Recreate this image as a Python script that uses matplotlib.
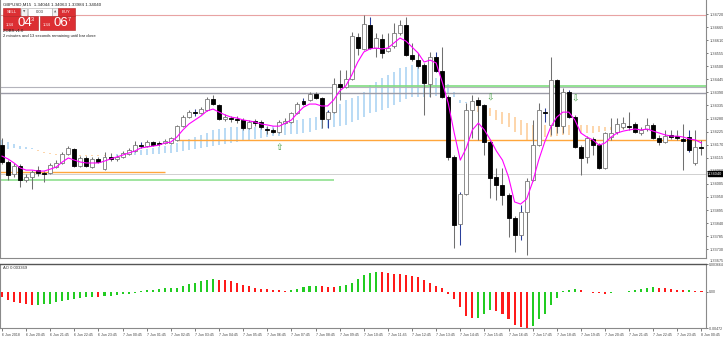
import matplotlib
matplotlib.use("Agg")
import matplotlib.pyplot as plt
import matplotlib.transforms as mtransforms
from matplotlib.patches import Rectangle

# ---------------- data ----------------
opens = [1.34168, 1.34097, 1.34047, 1.34080, 1.34021, 1.34034, 1.34063, 1.34051, 1.34051, 1.34076,
         1.34093, 1.34131, 1.34152, 1.34080, 1.34114, 1.34076, 1.34110, 1.34067, 1.34118, 1.34110,
         1.34118, 1.34131, 1.34143, 1.34168, 1.34164, 1.34181, 1.34177, 1.34177, 1.34177, 1.34190,
         1.34248, 1.34286, 1.34307, 1.34303, 1.34316, 1.34362, 1.34337, 1.34278, 1.34282, 1.34278,
         1.34274, 1.34240, 1.34270, 1.34265, 1.34236, 1.34232, 1.34223, 1.34261, 1.34265, 1.34303,
         1.34354, 1.34358, 1.34383, 1.34366, 1.34278, 1.34307, 1.34425, 1.34413, 1.34446, 1.34623,
         1.34573, 1.34674, 1.34577, 1.34615, 1.34564, 1.34585, 1.34640, 1.34674, 1.34547, 1.34526,
         1.34505, 1.34425, 1.34539, 1.34480, 1.34371, 1.34118, 1.33836, 1.33963, 1.34316, 1.34358,
         1.34337, 1.34181, 1.34034, 1.34000, 1.33958, 1.33862, 1.33790, 1.33887, 1.34021, 1.34168,
         1.34307, 1.34253, 1.34442, 1.34248, 1.34392, 1.34286, 1.34160, 1.34118, 1.34194, 1.34168,
         1.34072, 1.34202, 1.34223, 1.34244, 1.34248, 1.34257, 1.34219, 1.34236, 1.34253, 1.34198,
         1.34181, 1.34211, 1.34206, 1.34194, 1.34202, 1.34093, 1.34160]
closes = [1.34097, 1.34042, 1.34080, 1.34021, 1.34034, 1.34055, 1.34051, 1.34047, 1.34084, 1.34093,
          1.34131, 1.34156, 1.34080, 1.34114, 1.34080, 1.34110, 1.34097, 1.34118, 1.34110, 1.34118,
          1.34135, 1.34147, 1.34168, 1.34164, 1.34181, 1.34168, 1.34173, 1.34185, 1.34198, 1.34248,
          1.34286, 1.34307, 1.34303, 1.34320, 1.34362, 1.34341, 1.34278, 1.34286, 1.34278, 1.34274,
          1.34240, 1.34265, 1.34261, 1.34244, 1.34232, 1.34223, 1.34265, 1.34270, 1.34303, 1.34341,
          1.34341, 1.34383, 1.34366, 1.34278, 1.34307, 1.34425, 1.34413, 1.34446, 1.34627, 1.34577,
          1.34678, 1.34577, 1.34619, 1.34556, 1.34577, 1.34640, 1.34674, 1.34547, 1.34531, 1.34501,
          1.34430, 1.34539, 1.34480, 1.34371, 1.34118, 1.33833, 1.33963, 1.34316, 1.34354, 1.34337,
          1.34181, 1.34030, 1.34000, 1.33958, 1.33862, 1.33790, 1.33887, 1.34017, 1.34168, 1.34316,
          1.34303, 1.34442, 1.34248, 1.34392, 1.34286, 1.34160, 1.34114, 1.34198, 1.34168, 1.34072,
          1.34219, 1.34219, 1.34257, 1.34261, 1.34244, 1.34223, 1.34232, 1.34253, 1.34198, 1.34181,
          1.34206, 1.34202, 1.34198, 1.34185, 1.34147, 1.34160, 1.34156]
highs = [1.34198, 1.34105, 1.34093, 1.34089, 1.34047, 1.34063, 1.34080, 1.34059, 1.34093, 1.34105,
         1.34139, 1.34164, 1.34156, 1.34122, 1.34122, 1.34118, 1.34118, 1.34139, 1.34135, 1.34126,
         1.34143, 1.34156, 1.34185, 1.34181, 1.34190, 1.34185, 1.34185, 1.34194, 1.34202, 1.34253,
         1.34295, 1.34316, 1.34320, 1.34328, 1.34371, 1.34379, 1.34341, 1.34299, 1.34291, 1.34291,
         1.34282, 1.34274, 1.34278, 1.34274, 1.34248, 1.34240, 1.34274, 1.34282, 1.34307, 1.34350,
         1.34366, 1.34392, 1.34392, 1.34371, 1.34316, 1.34451, 1.34484, 1.34484, 1.34644, 1.34640,
         1.34716, 1.34707, 1.34640, 1.34636, 1.34640, 1.34682, 1.34695, 1.34707, 1.34598, 1.34556,
         1.34514, 1.34560, 1.34560, 1.34581, 1.34379, 1.34126, 1.33971, 1.34345, 1.34379, 1.34371,
         1.34341, 1.34190, 1.34072, 1.34072, 1.33967, 1.33871, 1.33916, 1.34030, 1.34274, 1.34345,
         1.34324, 1.34539, 1.34446, 1.34409, 1.34400, 1.34295, 1.34168, 1.34206, 1.34202, 1.34177,
         1.34223, 1.34282, 1.34282, 1.34286, 1.34307, 1.34265, 1.34244, 1.34282, 1.34261, 1.34211,
         1.34232, 1.34232, 1.34232, 1.34257, 1.34232, 1.34232, 1.34190]
lows = [1.34089, 1.34021, 1.34034, 1.33992, 1.34013, 1.33983, 1.34038, 1.34013, 1.34047, 1.34072,
        1.34089, 1.34126, 1.34076, 1.34076, 1.34076, 1.34072, 1.34093, 1.34063, 1.34101, 1.34101,
        1.34114, 1.34126, 1.34139, 1.34156, 1.34160, 1.34164, 1.34164, 1.34173, 1.34173, 1.34185,
        1.34244, 1.34282, 1.34291, 1.34299, 1.34312, 1.34337, 1.34274, 1.34270, 1.34265, 1.34261,
        1.34232, 1.34236, 1.34248, 1.34236, 1.34215, 1.34219, 1.34219, 1.34257, 1.34261, 1.34299,
        1.34337, 1.34354, 1.34362, 1.34240, 1.34240, 1.34303, 1.34358, 1.34409, 1.34442, 1.34547,
        1.34569, 1.34573, 1.34539, 1.34535, 1.34560, 1.34577, 1.34632, 1.34543, 1.34522, 1.34493,
        1.34295, 1.34371, 1.34476, 1.34366, 1.34105, 1.33735, 1.33748, 1.33958, 1.34198, 1.34190,
        1.34126, 1.33945, 1.33937, 1.33916, 1.33782, 1.33718, 1.33769, 1.33705, 1.34017, 1.34164,
        1.34265, 1.34211, 1.34219, 1.34219, 1.34282, 1.34156, 1.34042, 1.34093, 1.34126, 1.34067,
        1.34067, 1.34190, 1.34215, 1.34236, 1.34232, 1.34219, 1.34211, 1.34227, 1.34194, 1.34168,
        1.34177, 1.34194, 1.34190, 1.34063, 1.34139, 1.34084, 1.34126]
ma_line = [1.34122, 1.34110, 1.34093, 1.34072, 1.34063, 1.34063, 1.34059, 1.34059, 1.34067, 1.34076,
           1.34097, 1.34114, 1.34105, 1.34097, 1.34093, 1.34093, 1.34093, 1.34101, 1.34110, 1.34118,
           1.34126, 1.34135, 1.34143, 1.34156, 1.34160, 1.34164, 1.34168, 1.34177, 1.34181, 1.34202,
           1.34232, 1.34257, 1.34274, 1.34291, 1.34312, 1.34320, 1.34307, 1.34295, 1.34286, 1.34282,
           1.34274, 1.34270, 1.34265, 1.34257, 1.34253, 1.34248, 1.34248, 1.34261, 1.34274, 1.34303,
           1.34328, 1.34341, 1.34341, 1.34333, 1.34333, 1.34358, 1.34396, 1.34417, 1.34463, 1.34518,
           1.34560, 1.34573, 1.34577, 1.34573, 1.34577, 1.34598, 1.34619, 1.34606, 1.34581, 1.34556,
           1.34518, 1.34526, 1.34514, 1.34434, 1.34345, 1.34219, 1.34105, 1.34156, 1.34232, 1.34261,
           1.34232, 1.34190, 1.34143, 1.34105, 1.34034, 1.33929, 1.33920, 1.33941, 1.34013, 1.34105,
           1.34181, 1.34244, 1.34286, 1.34307, 1.34307, 1.34274, 1.34219, 1.34202, 1.34190, 1.34168,
           1.34177, 1.34202, 1.34219, 1.34227, 1.34232, 1.34236, 1.34232, 1.34236, 1.34227, 1.34219,
           1.34211, 1.34206, 1.34206, 1.34202, 1.34194, 1.34190, 1.34177]
band_fast = [1.34190, 1.34181, 1.34173, 1.34164, 1.34160, 1.34156, 1.34143, 1.34135, 1.34131, 1.34126,
             1.34126, 1.34126, 1.34122, 1.34122, 1.34122, 1.34122, 1.34122, 1.34124, 1.34126, 1.34131,
             1.34135, 1.34139, 1.34143, 1.34147, 1.34152, 1.34156, 1.34160, 1.34164, 1.34168, 1.34177,
             1.34185, 1.34194, 1.34202, 1.34211, 1.34219, 1.34232, 1.34236, 1.34240, 1.34244, 1.34244,
             1.34244, 1.34244, 1.34244, 1.34244, 1.34244, 1.34248, 1.34253, 1.34261, 1.34270, 1.34274,
             1.34278, 1.34282, 1.34286, 1.34295, 1.34312, 1.34328, 1.34341, 1.34358, 1.34366, 1.34375,
             1.34392, 1.34421, 1.34434, 1.34451, 1.34463, 1.34476, 1.34493, 1.34497, 1.34505, 1.34497,
             1.34484, 1.34467, 1.34451, 1.34442, 1.34425, 1.34392, 1.34358, 1.34350, 1.34341, 1.34307,
             1.34299, 1.34291, 1.34274, 1.34257, 1.34244, 1.34223, 1.34211, 1.34190, 1.34190, 1.34198,
             1.34202, 1.34202, 1.34206, 1.34211, 1.34211, 1.34215, 1.34219, 1.34219, 1.34219, 1.34223,
             1.34227, 1.34232, 1.34232, 1.34236, 1.34236, 1.34236, 1.34236, 1.34236, 1.34236, 1.34236,
             1.34236, 1.34236, 1.34236, 1.34236, 1.34236, 1.34236, 1.34236]
band_slow = [1.34147, 1.34152, 1.34156, 1.34152, 1.34152, 1.34152, 1.34147, 1.34139, 1.34135, 1.34131,
             1.34131, 1.34131, 1.34126, 1.34126, 1.34126, 1.34126, 1.34126, 1.34126, 1.34126, 1.34124,
             1.34126, 1.34126, 1.34126, 1.34126, 1.34126, 1.34131, 1.34131, 1.34135, 1.34135, 1.34139,
             1.34143, 1.34147, 1.34152, 1.34156, 1.34160, 1.34164, 1.34168, 1.34173, 1.34177, 1.34181,
             1.34185, 1.34190, 1.34194, 1.34198, 1.34202, 1.34206, 1.34206, 1.34211, 1.34215, 1.34215,
             1.34219, 1.34223, 1.34232, 1.34236, 1.34240, 1.34244, 1.34248, 1.34253, 1.34265, 1.34274,
             1.34286, 1.34303, 1.34307, 1.34316, 1.34324, 1.34337, 1.34350, 1.34362, 1.34371, 1.34371,
             1.34371, 1.34371, 1.34375, 1.34379, 1.34383, 1.34371, 1.34345, 1.34345, 1.34341, 1.34333,
             1.34328, 1.34324, 1.34316, 1.34307, 1.34303, 1.34286, 1.34274, 1.34261, 1.34253, 1.34253,
             1.34253, 1.34253, 1.34253, 1.34253, 1.34253, 1.34253, 1.34253, 1.34253, 1.34248, 1.34248,
             1.34244, 1.34244, 1.34240, 1.34240, 1.34238, 1.34236, 1.34236, 1.34236, 1.34236, 1.34236,
             1.34236, 1.34236, 1.34236, 1.34236, 1.34236, 1.34236, 1.34236]
ao_values = [-0.00066, -0.00108, -0.00128, -0.00149, -0.00157, -0.00177, -0.00170, -0.00157, -0.00153, -0.00136,
             -0.00115, -0.00103, -0.00087, -0.00074, -0.00066, -0.00062, -0.00066, -0.00053, -0.00050, -0.00046,
             -0.00033, -0.00025, -0.00012, 0.00009, 0.00021, 0.00029, 0.00041, 0.00046, 0.00050, 0.00058,
             0.00078, 0.00099, 0.00112, 0.00140, 0.00161, 0.00174, 0.00161, 0.00153, 0.00140, 0.00120,
             0.00091, 0.00078, 0.00058, 0.00041, 0.00037, 0.00029, 0.00021, 0.00019, 0.00025, 0.00037,
             0.00062, 0.00074, 0.00081, 0.00078, 0.00071, 0.00066, 0.00074, 0.00087, 0.00112, 0.00174,
             0.00219, 0.00248, 0.00260, 0.00258, 0.00248, 0.00239, 0.00232, 0.00219, 0.00207, 0.00190,
             0.00157, 0.00115, 0.00083, 0.00053, -0.00025, -0.00087, -0.00198, -0.00310, -0.00347, -0.00335,
             -0.00285, -0.00236, -0.00248, -0.00285, -0.00360, -0.00434, -0.00459, -0.00471, -0.00446, -0.00360,
             -0.00285, -0.00174, -0.00074, 0.00019, 0.00031, 0.00037, 0.00025, 0.00006, -0.00012, -0.00019,
             -0.00025, -0.00019, -0.00006, 0.00006, 0.00019, 0.00031, 0.00043, 0.00056, 0.00062, 0.00056,
             0.00047, 0.00037, 0.00031, 0.00025, 0.00029, 0.00019, 0.00012]
blue_wick = [23, 32, 50, 54, 61, 72, 76, 86, 90, 94, 114]
up_arrows = [(46, 1.34160)]
down_arrows = [(81, 1.34366), (95, 1.34362)]

# horizontal levels: (price, start index, end index, colour, width)
levels = [
    (1.34716, -1, 117, "#e8a3a3", 0.8),
    (1.34411, -1, 117, "#b4b4bc", 0.8),
    (1.34389, -1, 117, "#9c9ca8", 1.0),
    (1.34419, 57, 117, "#80dd80", 1.2),
    (1.34023, -1, 55, "#8fe08f", 1.2),
    (1.34055, -1, 27, "#ffa63c", 1.0),
    (1.34190, 29, 117, "#ffa63c", 1.0),
]
bid_price = 1.34047
bid_text = "1.34040"

price_ticks = [1.34720, 1.34665, 1.34610, 1.34555, 1.34500, 1.34445, 1.34390, 1.34335, 1.34280,
               1.34225, 1.34170, 1.34115, 1.34060, 1.34005, 1.33950, 1.33895, 1.33840, 1.33785, 1.33730]
time_labels = ["6 Jun 2018", "6 Jun 20:45", "6 Jun 21:45", "6 Jun 22:45", "6 Jun 23:45"] + \
              ["7 Jun %02d:45" % h for h in range(24)] + ["8 Jun 00:45"]

# ---------------- figure ----------------
W, H = 723, 338
fig = plt.figure(figsize=(W / 100, H / 100), dpi=100)
fig.patch.set_facecolor("white")
plt.rcParams["font.family"] = ["Liberation Sans", "DejaVu Sans"]


def px_axes(x0, y0, x1, y1):
    return fig.add_axes([x0 / W, 1 - y1 / H, (x1 - x0) / W, (y1 - y0) / H])


ax = px_axes(0, 0, 706, 258)
ao = px_axes(0, 264, 706, 328)
n = len(closes)
idx = list(range(n))
xlim = (-0.33, 116.75)

# indicator band (vertical hatch lines)
band_cols = ["#b3d8f5" if f >= s else "#fdd2a4" for f, s in zip(band_fast, band_slow)]
ax.vlines(idx, band_slow, band_fast, colors=band_cols, lw=1.3, zorder=1)

# levels
for p, a, b, c, w in levels:
    ax.hlines(p, max(a, xlim[0]), min(b, xlim[1]), colors=c, lw=w, zorder=2)
ax.axhline(bid_price, color="#d0d0d0", lw=0.7, zorder=2)

# candles
wick_cols = ["#2a3f9a" if i in blue_wick else "#707070" for i in idx]
ax.vlines(idx, lows, highs, colors=wick_cols, lw=0.75, zorder=3)
bottoms = [min(o, c) for o, c in zip(opens, closes)]
heights = [max(abs(c - o), 0.00003) for o, c in zip(opens, closes)]
face = ["white" if c > o else "black" for o, c in zip(opens, closes)]
edge = ["#7a7a7a" if c > o else "black" for o, c in zip(opens, closes)]
ax.bar(idx, heights, bottom=bottoms, width=0.66, color=face, edgecolor=edge, linewidth=0.6, zorder=4)

# moving average
ax.plot(idx, ma_line, color="#ff00ff", lw=0.8, zorder=5)

# arrows
for i, p in up_arrows:
    ax.text(i, p, "\u21e7", color="#3f9a3f", fontsize=6.5, ha="center", va="center",
            family="DejaVu Sans", zorder=6)
for i, p in down_arrows:
    ax.text(i, p, "\u21e9", color="#3f9a3f", fontsize=6.5, ha="center", va="center",
            family="DejaVu Sans", zorder=6)

ax.set_xlim(*xlim)
ax.set_ylim(1.33693, 1.34779)
ax.set_xticks([])
ax.yaxis.tick_right()
ax.set_yticks(price_ticks)
ax.set_yticklabels(["%.5f" % t for t in price_ticks])
ax.tick_params(axis="y", labelsize=2.8, length=1.5, width=0.5, pad=0.8, colors="#444444")
ax.spines["top"].set_visible(False)
for s in ["left", "right", "bottom"]:
    ax.spines[s].set_color("#8a8a8a")
    ax.spines[s].set_linewidth(0.8)

trans = mtransforms.blended_transform_factory(ax.transAxes, ax.transData)
ax.text(1.003, bid_price, bid_text, transform=trans, fontsize=2.8, color="white",
        ha="left", va="center", zorder=10,
        bbox=dict(boxstyle="square,pad=0.15", fc="black", ec="black"))
ax.text(1.0045, -0.012, "1.33675", transform=ax.transAxes, fontsize=2.8, color="#444444",
        ha="left", va="center")

# AO panel
ao_cols = ["#ff1a1a"] + ["#22cc22" if ao_values[i] > ao_values[i - 1] else "#ff1a1a" for i in range(1, n)]
ao.bar(idx, ao_values, width=0.34, color=ao_cols, zorder=3)
ao.set_xlim(*xlim)
ao.set_ylim(-0.00472, 0.003664)
ao.yaxis.tick_right()
ao.set_yticks([0.003664, 0.0, -0.00472])
ao.set_yticklabels(["0.003664", "0.00", "-0.00472"])
ao.tick_params(axis="y", labelsize=2.5, length=1.5, width=0.5, pad=0.8, colors="#444444")
ao.set_xticks(list(range(0, 117, 4)))
ao.set_xticklabels(time_labels, ha="left")
ao.tick_params(axis="x", labelsize=2.6, length=2, width=0.5, pad=1.5, colors="#444444")
ao.spines["top"].set_color("#555555")
ao.spines["top"].set_linewidth(1.0)
for s in ["left", "right", "bottom"]:
    ao.spines[s].set_color("#8a8a8a")
    ao.spines[s].set_linewidth(0.8)
ao.text(0.004, 0.93, "AO 0.003369", transform=ao.transAxes, fontsize=3.0, color="#333333",
        ha="left", va="center")

# overlay: title and one-click trading panel
ov = fig.add_axes([0, 0, 1, 1], zorder=20)
ov.set_xlim(0, W)
ov.set_ylim(H, 0)
ov.set_axis_off()
ov.patch.set_alpha(0)
ov.text(3, 4.5, "GBPUSD,M15  1.34044 1.34063 1.33984 1.34040", fontsize=3.2, color="#222222",
        ha="left", va="center")
red = "#dc2f33"
ov.add_patch(Rectangle((3, 8), 17, 7.5, fc=red, ec="#b02020", lw=0.4))
ov.text(11.5, 11.8, "SELL", fontsize=3.0, color="white", ha="center", va="center")
ov.add_patch(Rectangle((20.5, 8), 6.5, 7.5, fc="#f2f2f2", ec="#aaaaaa", lw=0.4))
ov.text(23.7, 11.8, "\u25bc", fontsize=2.2, color="#666666", ha="center", va="center", family="DejaVu Sans")
ov.add_patch(Rectangle((27.5, 8), 24.5, 7.5, fc="white", ec="#aaaaaa", lw=0.4))
ov.text(39.7, 11.8, "0.03", fontsize=3.0, color="#333333", ha="center", va="center")
ov.add_patch(Rectangle((52, 8), 6, 7.5, fc="#f2f2f2", ec="#aaaaaa", lw=0.4))
ov.text(55, 11.8, "\u25b2", fontsize=2.2, color="#666666", ha="center", va="center", family="DejaVu Sans")
ov.add_patch(Rectangle((58, 8), 17, 7.5, fc=red, ec="#b02020", lw=0.4))
ov.text(66.5, 11.8, "BUY", fontsize=3.0, color="white", ha="center", va="center")
for bx, big, sup in [(3, "04", "3"), (39.5, "06", "7")]:
    ov.add_patch(Rectangle((bx, 16.3), 35, 13.2, fc=red, ec="#b02020", lw=0.4))
    ov.text(bx + 3, 25, "1.34", fontsize=3.0, color="white", ha="left", va="center")
    ov.text(bx + 14.5, 23.5, big, fontsize=9.5, color="white", ha="left", va="center")
    ov.text(bx + 28, 19.5, sup, fontsize=4.0, color="white", ha="left", va="center")
ov.text(3, 31.5, "ZOBS v1.0", fontsize=3.0, color="#222222", ha="left", va="center")
ov.text(3, 35.5, "2 minutes and 13 seconds remaining until bar close", fontsize=3.0,
        color="#222222", ha="left", va="center")

fig.savefig("out.png", dpi=100, facecolor="white")
